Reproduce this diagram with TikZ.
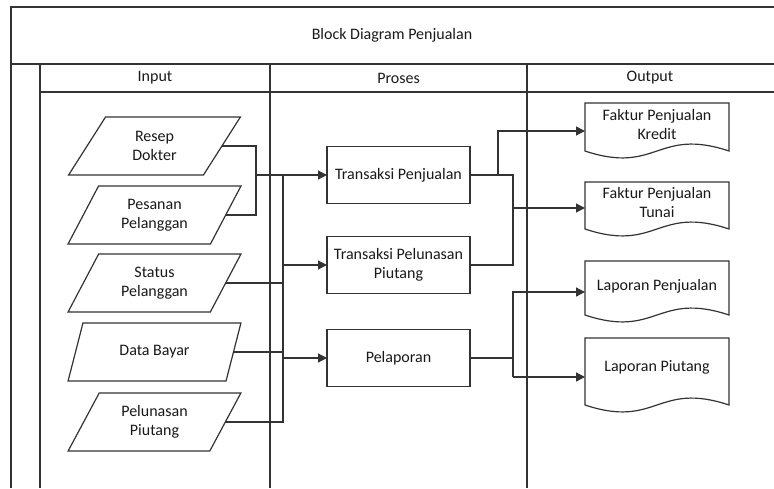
\documentclass[tikz,border=0pt]{standalone}
\usepackage{fontspec}
\setmainfont{Carlito}
\usetikzlibrary{arrows.meta,shapes.geometric,calc}

\begin{document}
\begin{tikzpicture}[x=1pt,y=-1pt,
  frame/.style={line width=1.5pt, draw=black!80},
  link/.style={line width=1.3pt, draw=black!80},
  arr/.style={link, -{Triangle[length=9pt,width=9pt]}},
  lbl/.style={font=\fontsize{16}{19}\selectfont, align=center, text=black!90},
  datain/.style={lbl, trapezium, trapezium left angle=60.4, trapezium right angle=119.6,
    trapezium stretches=true, minimum width=173pt, minimum height=58pt,
    draw=black!80, line width=1.2pt, fill=white, inner sep=0pt, outer sep=0pt},
  procbox/.style={lbl, rectangle, minimum width=143pt, minimum height=57pt,
    draw=black!80, line width=1.2pt, fill=white, inner sep=0pt, outer sep=0pt},
  docnode/.style={lbl, rectangle, minimum width=144pt, inner sep=0pt, outer sep=0pt},
  docline/.style={draw=black!80, line width=1.2pt, fill=white}
]
\useasboundingbox (0,0) rectangle (774,488);

% swimlane frame
\draw[frame] (774,7) -- (11,7) -- (11,488);
\draw[frame] (11,64) -- (774,64);
\draw[frame] (40,92) -- (774,92);
\draw[frame] (40,64) -- (40,488);
\draw[frame] (270,64) -- (270,488);
\draw[frame] (527,64) -- (527,488);

\node[lbl] (title) at (392,35.5) {Block Diagram Penjualan};
\node[lbl] (hin)  at (155,78) {Input};
\node[lbl] (hpr)  at (398.5,78) {Proses};
\node[lbl] (hout) at (650,78) {Output};

% input data
\node[datain] (resep)  at (154.5,146) {Resep\\Dokter};
\node[datain] (pesan)  at (154.5,215) {Pesanan\\Pelanggan};
\node[datain] (status) at (154.5,283) {Status\\Pelanggan};
\node[datain] (bayar)  at (154.5,352) {Data Bayar};
\node[datain] (lunas)  at (154.5,422) {Pelunasan\\Piutang};

% processes
\node[procbox] (tpj) at (398.5,175) {Transaksi Penjualan};
\node[procbox] (tpp) at (398.5,265) {Transaksi Pelunasan\\Piutang};
\node[procbox] (lap) at (398.5,358) {Pelaporan};

% output documents: outline drawn around each node (top offset, bottom offset)
\newcommand\docoutline[3]{%
  \draw[docline] ($(#1.center)+(-72,-#2)$) -- ($(#1.center)+(72,-#2)$)
    -- ($(#1.center)+(72,#3)$)
    .. controls ($(#1.center)+(0,#3-24)$) and ($(#1.center)+(0,#3+24)$) ..
    ($(#1.center)+(-72,#3)$) -- cycle;}

\node[docnode] (fk) at (657,124) {\phantom{X}};
\node[docnode] (ft) at (657,202) {\phantom{X}};
\node[docnode] (lp) at (657,286) {\phantom{X}};
\node[docnode] (lq) at (657,367) {\phantom{X}};
\docoutline{fk}{21}{27}
\docoutline{ft}{20}{27}
\docoutline{lp}{25}{29}
\docoutline{lq}{29}{38}
\node[lbl] at (fk.center) {Faktur Penjualan\\Kredit};
\node[lbl] at (ft.center) {Faktur Penjualan\\Tunai};
\node[lbl] at (lp.center) {Laporan Penjualan};
\node[lbl] at (lq.center) {Laporan Piutang};

% connector junctions
\coordinate (j1)   at ($(tpj.west)+(-71,0)$);
\coordinate (bus)  at ($(tpj.west)+(-44,0)$);
\coordinate (rbus) at ($(tpj.east)+(43,0)$);
\coordinate (kbus) at ($(tpj.east)+(28,0)$);
\coordinate (fkin) at ($(fk.west)+(0,7)$);
\coordinate (ftin) at ($(ft.west)+(0,6)$);
\coordinate (lpin) at ($(lp.west)+(0,6)$);
\coordinate (lqin) at ($(lq.west)+(0,10)$);

% inputs to processes
\draw[link] (resep.right side) -| (j1) |- (pesan.right side);
\draw[arr] (j1) -- (tpj.west);
\draw[link] (bus) |- (lunas.right side);
\draw[link] (status.right side) -- (status.right side -| bus);
\draw[link] (bayar.right side) -- (bayar.right side -| bus);
\draw[arr] (tpp.west -| bus) -- (tpp.west);
\draw[arr] (lap.west -| bus) -- (lap.west);

% processes to outputs
\draw[link] (tpj.east) -| (rbus |- tpp.east) -- (tpp.east);
\draw[arr] (kbus) |- (fkin);
\draw[arr] (rbus |- ftin) -- (ftin);
\draw[link] (lap.east) -- (lap.east -| rbus);
\draw[arr] (rbus |- lqin) |- (lpin);
\draw[arr] (rbus |- lqin) -- (lqin);
\end{tikzpicture}
\end{document}
